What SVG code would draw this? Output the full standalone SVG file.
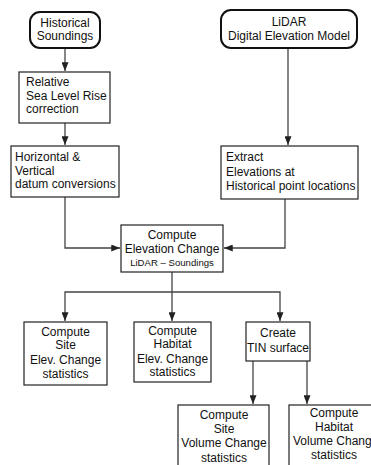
<svg xmlns="http://www.w3.org/2000/svg" width="371" height="465" viewBox="0 0 371 465">
<defs>
<marker id="ah" viewBox="0 0 10 8" refX="10" refY="4" markerWidth="9" markerHeight="7" markerUnits="userSpaceOnUse" orient="auto">
<path d="M0,0 L10,4 L0,8 z" fill="#222"/>
</marker>
<style>
.box{fill:#fff;stroke:#222;stroke-width:1.2}
.rbox{fill:#fff;stroke:#111;stroke-width:2}
.t{font-family:"Liberation Sans",Arial,sans-serif;font-size:12px;fill:#111}
.m{text-anchor:middle}
.s{font-size:9.6px}
.c{fill:none;stroke:#444;stroke-width:1.3;marker-end:url(#ah)}
</style>
</defs>
<rect width="371" height="465" fill="#fff"/>
<g id="connectors">
<path class="c" d="M65,48 V71"/>
<path class="c" d="M65,123 V145"/>
<path class="c" d="M288,48 V145"/>
<path class="c" d="M65,197 V248 H120"/>
<path class="c" d="M285,199 V248 H224"/>
<path class="c" d="M172,272 V292 H65 V321"/>
<path class="c" d="M172,292 V321"/>
<path class="c" d="M172,292 H280 V321"/>
<path class="c" d="M253,361 V404"/>
<path class="c" d="M307,361 V404"/>
</g>
<g id="historical">
<rect class="rbox" x="30" y="12" width="70" height="36" rx="10"/>
<text class="t m" x="65" y="27">Historical</text>
<text class="t m" x="65" y="40">Soundings</text>
</g>
<g id="lidar">
<rect class="rbox" x="221" y="10" width="136" height="38" rx="10"/>
<text class="t m" x="289" y="26">LiDAR</text>
<text class="t m" x="289" y="40">Digital Elevation Model</text>
</g>
<g id="slr">
<rect class="box" x="19" y="72" width="91" height="51"/>
<text class="t" x="26" y="86">Relative</text>
<text class="t" x="26" y="100">Sea Level Rise</text>
<text class="t" x="26" y="113">correction</text>
</g>
<g id="datum">
<rect class="box" x="11" y="146" width="108" height="51"/>
<text class="t" x="15" y="161">Horizontal &amp;</text>
<text class="t" x="15" y="175">Vertical</text>
<text class="t" x="15" y="188">datum conversions</text>
</g>
<g id="extract">
<rect class="box" x="221" y="146" width="137" height="53"/>
<text class="t" x="226" y="161">Extract</text>
<text class="t" x="226" y="176">Elevations at</text>
<text class="t" x="226" y="190">Historical point locations</text>
</g>
<g id="elevchange">
<rect class="box" x="121" y="225" width="102" height="47"/>
<text class="t m" x="172" y="239">Compute</text>
<text class="t m" x="172" y="253">Elevation Change</text>
<text class="t m s" x="172" y="265.5">LiDAR – Soundings</text>
</g>
<g id="siteelev">
<rect class="box" x="24" y="322" width="83" height="63"/>
<text class="t m" x="65.5" y="336">Compute</text>
<text class="t m" x="65.5" y="349">Site</text>
<text class="t m" x="65.5" y="364">Elev. Change</text>
<text class="t m" x="65.5" y="378">statistics</text>
</g>
<g id="habelev">
<rect class="box" x="134" y="322" width="77" height="60"/>
<text class="t m" x="172.5" y="335">Compute</text>
<text class="t m" x="172.5" y="348">Habitat</text>
<text class="t m" x="172.5" y="363">Elev. Change</text>
<text class="t m" x="172.5" y="376">statistics</text>
</g>
<g id="tin">
<rect class="box" x="246" y="322" width="64" height="39"/>
<text class="t m" x="278" y="337">Create</text>
<text class="t m" x="278" y="352">TIN surface</text>
</g>
<g id="sitevol">
<rect class="box" x="178" y="405" width="91" height="70"/>
<text class="t m" x="224" y="419">Compute</text>
<text class="t m" x="224" y="433">Site</text>
<text class="t m" x="224" y="447">Volume Change</text>
<text class="t m" x="224" y="462">statistics</text>
</g>
<g id="habvol">
<rect class="box" x="289" y="405" width="91" height="70"/>
<text class="t m" x="334" y="417">Compute</text>
<text class="t m" x="334" y="431">Habitat</text>
<text class="t" x="293" y="445">Volume Chang</text>
<text class="t m" x="334" y="459">statistics</text>
</g>
</svg>
